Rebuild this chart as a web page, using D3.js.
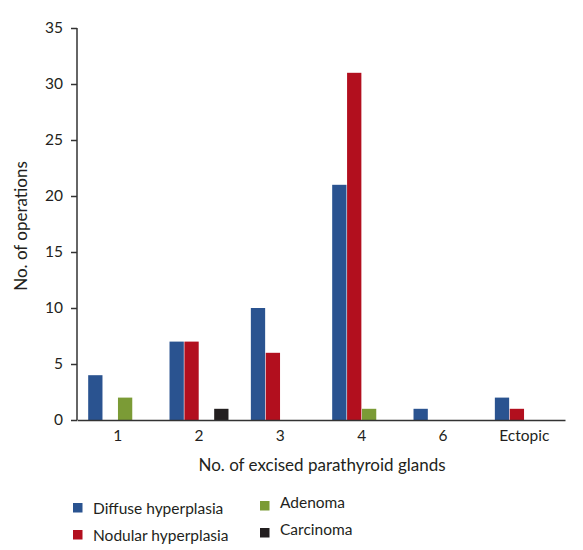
<!DOCTYPE html>
<html><head><meta charset="utf-8">
<script src="https://cdn.jsdelivr.net/npm/d3@7"></script>
<style>body{margin:0;background:#fff;} svg{display:block;font-family:Lato,sans-serif;}</style>
</head><body>
<svg id="c" width="583" height="550"></svg>
<script>
const categories = ["1","2","3","4","6","Ectopic"];
const seriesNames = ["Diffuse hyperplasia","Nodular hyperplasia","Adenoma","Carcinoma"];
const diffuse = [4,7,10,21,1,2];
const nodular = [0,7,6,31,0,1];
const adenoma = [2,0,0,1,0,0];
const carcinoma = [0,1,0,0,0,0];
const yTicks = [0,5,10,15,20,25,30,35];
const colors = ["#2a5390","#b20f1e","#7b9b36","#231f20"];
const seriesValues = [diffuse,nodular,adenoma,carcinoma];

const svg = d3.select("#c");
const x0 = d3.scaleBand().domain(categories).range([77,565]).paddingInner(0.275).paddingOuter(0.1375);
const x1 = d3.scaleBand().domain(seriesNames).range([0,x0.bandwidth()]).paddingInner(0.04);
const y = d3.scaleLinear().domain([0,35]).range([420,28]);

const rows = [];
categories.forEach((c,i)=>seriesNames.forEach((s,j)=>rows.push({c,s,j,v:seriesValues[j][i]})));
svg.append("g").selectAll("rect").data(rows.filter(d=>d.v>0)).join("rect")
  .attr("x",d=>x0(d.c)+x1(d.s)).attr("width",x1.bandwidth())
  .attr("y",d=>y(d.v)).attr("height",d=>y(0)-y(d.v)).attr("fill",d=>colors[d.j]);

const ya = svg.append("g").attr("transform","translate(77,0)")
  .call(d3.axisLeft(y).tickValues(yTicks).tickSize(6).tickPadding(8));
ya.select(".domain").attr("stroke","#333").attr("stroke-width",1.5).attr("d","M0,"+y(35)+"V"+y(0));
ya.selectAll(".tick line").attr("stroke","#333").attr("stroke-width",1.5);
ya.selectAll("text").attr("font-size",15.5).attr("fill","#231f20").attr("font-family","Lato,sans-serif");

const xa = svg.append("g").attr("transform","translate(0,420)")
  .call(d3.axisBottom(x0).tickSize(0).tickPadding(10));
xa.select(".domain").attr("stroke","#333").attr("stroke-width",1.5);
xa.selectAll("text").attr("font-size",15.5).attr("fill","#231f20").attr("font-family","Lato,sans-serif");

svg.append("text").attr("transform","translate(27,226) rotate(-90)").attr("text-anchor","middle")
  .attr("font-size",17).attr("fill","#231f20").text("No. of operations");
svg.append("text").attr("x",322).attr("y",471).attr("text-anchor","middle")
  .attr("font-size",17).attr("fill","#231f20").text("No. of excised parathyroid glands");

const legPos = [[73,503],[73,530],[260,501],[260,528]];
const lg = svg.append("g").selectAll("g").data(seriesNames).join("g")
  .attr("transform",(d,i)=>`translate(${legPos[i][0]},${legPos[i][1]})`);
lg.append("rect").attr("width",9.5).attr("height",9.5).attr("fill",(d,i)=>colors[i]);
lg.append("text").attr("x",20).attr("y",(d,i)=>i<2?11:7).attr("font-size",15.5).attr("fill","#231f20").text(d=>d);
</script>
</body></html>
